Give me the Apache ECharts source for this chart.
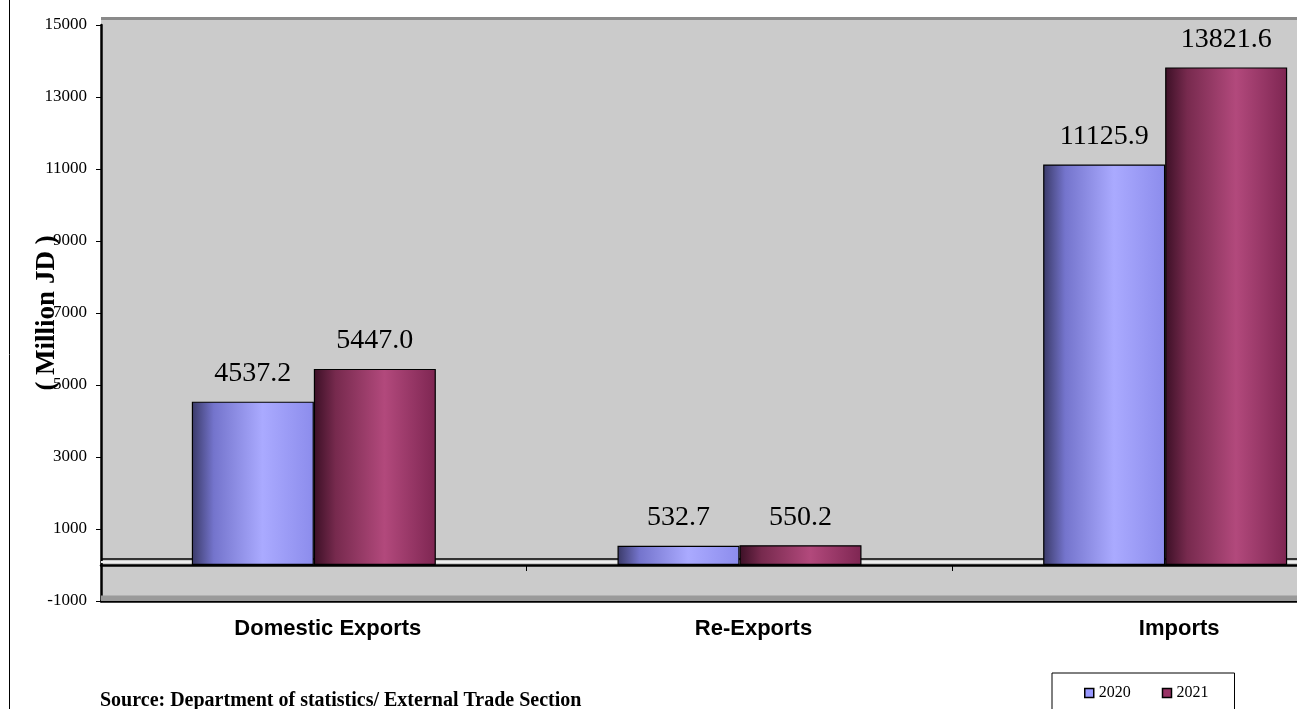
<!DOCTYPE html>
<html>
<head>
<meta charset="utf-8">
<script src="https://cdn.jsdelivr.net/npm/echarts@6/dist/echarts.min.js"></script>
<style>
  html, body { margin: 0; padding: 0; background: #fff; overflow: hidden; }
  #chart { width: 1400px; height: 709px; }
</style>
</head>
<body>
<div id="chart"></div>
<script>
  var categories = ['Domestic Exports', 'Re-Exports', 'Imports']
  var years = ['2020', '2021']
  var values2020 = [4537.2, 532.7, 11125.9]
  var values2021 = [5447.0, 550.2, 13821.6]

  var serif = '"Liberation Serif", "Times New Roman", serif'
  var sans = '"Liberation Sans", Arial, sans-serif'

  function cylinder (c0, c1, c2, c3) {
    return new echarts.graphic.LinearGradient(0, 0, 1, 0, [
      {offset: 0, color: c0},
      {offset: 0.18, color: c1},
      {offset: 0.58, color: c2},
      {offset: 1, color: c3}
    ])
  }

  var chart = echarts.init(document.getElementById('chart'))

  function makeSeries (name, data, fill) {
    return {
      name: name,
      type: 'bar',
      z: 3,
      data: data,
      barWidth: 122,
      barGap: '0%',
      itemStyle: {color: fill, borderColor: '#000', borderWidth: 1.2},
      label: {
        show: true,
        position: 'top',
        distance: 14,
        fontFamily: serif,
        fontSize: 28,
        color: '#000',
        formatter: function (p) { return p.value.toFixed(1) }
      },
      emphasis: {disabled: true}
    }
  }

  var s1 = makeSeries(years[0], values2020, cylinder('#3a3a68', '#7474cc', '#aaaaff', '#8c8cec'))
  var s2 = makeSeries(years[1], values2021, cylinder('#3c1026', '#772a4e', '#b2497c', '#7e2652'))

  // floor of the 3D plot: drawn under the bars
  var floor = {
    name: 'floor',
    type: 'line',
    z: 1,
    data: [],
    silent: true,
    markLine: {
      z: 1,
      silent: true,
      symbol: 'none',
      label: {show: false},
      data: [
        {yAxis: 170, lineStyle: {color: '#000', width: 1.5, type: 'solid'}},
        {yAxis: 100, lineStyle: {color: '#eeeeee', width: 2, type: 'solid'}}
      ]
    },
    markArea: {
      z: 1,
      silent: true,
      itemStyle: {color: '#9a9a9a'},
      data: [[{yAxis: -1000}, {yAxis: -850}]]
    }
  }

  var option = {
    animation: false,
    title: {
      text: 'Source: Department of statistics/ External Trade Section',
      left: 95,
      top: 686,
      textStyle: {fontFamily: serif, fontWeight: 'bold', fontSize: 20, color: '#000'}
    },
    legend: {
      data: [
        {name: years[0], itemStyle: {color: '#9999ff'}},
        {name: years[1], itemStyle: {color: '#993366'}}
      ],
      left: 1052,
      top: 673,
      padding: [12, 26, 30, 32],
      itemWidth: 9,
      itemHeight: 9,
      itemGap: 31,
      icon: 'rect',
      borderColor: '#000',
      borderWidth: 1,
      itemStyle: {borderColor: '#000', borderWidth: 1.5},
      textStyle: {fontFamily: serif, fontSize: 16, color: '#000'}
    },
    graphic: [
      {type: 'rect', left: 7, top: -20, shape: {width: 2000, height: 1000}, style: {fill: 'none', stroke: '#000', lineWidth: 1}, silent: true, z: -10},
      {type: 'rect', left: 101, top: 17, shape: {width: 1300, height: 9}, style: {fill: '#cbcbcb'}, silent: true, z: -5},
      {type: 'rect', left: 101, top: 17, shape: {width: 1300, height: 3}, style: {fill: '#8a8a8a'}, silent: true, z: -4}
    ],
    grid: {
      left: 101,
      top: 25,
      right: 22,
      bottom: 108,
      outerBoundsMode: 'none',
      containLabel: false,
      show: true,
      backgroundColor: '#cbcbcb',
      borderWidth: 0
    },
    xAxis: [
      {
        type: 'category',
        data: categories,
        position: 'bottom',
        axisLine: {onZero: false, lineStyle: {color: '#000', width: 2.5}},
        axisTick: {show: false},
        axisLabel: {
          margin: 17,
          fontFamily: sans,
          fontWeight: 'bold',
          fontSize: 22,
          color: '#000',
          padding: [0, 0, 0, 28]
        }
      },
      {
        type: 'category',
        data: categories,
        axisLine: {onZero: true, lineStyle: {color: '#000', width: 2.5}},
        axisTick: {show: true, inside: true, length: 6, lineStyle: {color: '#000', width: 1}},
        axisLabel: {show: false}
      }
    ],
    yAxis: {
      type: 'value',
      min: -1000,
      max: 15000,
      interval: 2000,
      name: '( Million JD )',
      nameLocation: 'middle',
      nameGap: 40,
      nameMoveOverlap: false,
      nameTextStyle: {fontFamily: serif, fontWeight: 'bold', fontSize: 27, color: '#000'},
      axisLine: {show: true, lineStyle: {color: '#000', width: 2.5}},
      axisTick: {show: true, length: 5, lineStyle: {color: '#000'}},
      axisLabel: {
        fontFamily: serif,
        fontSize: 17,
        color: '#000',
        margin: 14,
        formatter: function (v) { return String(v) }
      },
      splitLine: {show: false}
    },
    series: [s1, s2, floor]
  }
  chart.setOption(option)
</script>
</body>
</html>
